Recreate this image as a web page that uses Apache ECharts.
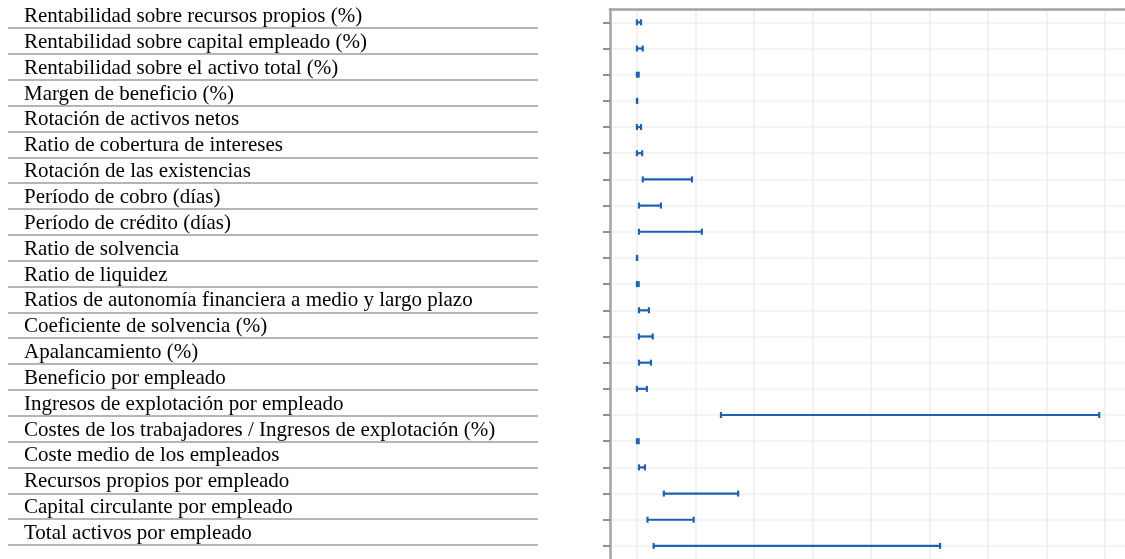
<!DOCTYPE html>
<html><head><meta charset="utf-8">
<script src="https://cdn.jsdelivr.net/npm/echarts@6/dist/echarts.min.js"></script>
<style>html,body{margin:0;padding:0;background:#fff}#c{width:1125px;height:559px}</style>
</head><body><div id="c"></div>
<script>
const categories = [
  'Rentabilidad sobre recursos propios (%)',
  'Rentabilidad sobre capital empleado (%)',
  'Rentabilidad sobre el activo total (%)',
  'Margen de beneficio (%)',
  'Rotación de activos netos',
  'Ratio de cobertura de intereses',
  'Rotación de las existencias',
  'Período de cobro (días)',
  'Período de crédito (días)',
  'Ratio de solvencia',
  'Ratio de liquidez',
  'Ratios de autonomía financiera a medio y largo plazo',
  'Coeficiente de solvencia (%)',
  'Apalancamiento (%)',
  'Beneficio por empleado',
  'Ingresos de explotación por empleado',
  'Costes de los trabajadores / Ingresos de explotación (%)',
  'Coste medio de los empleados',
  'Recursos propios por empleado',
  'Capital circulante por empleado',
  'Total activos por empleado'
];
const lowValues  = [0, 0, 0, 0, 0, 0, 10, 3.5, 3.5, 0, 0, 3.5, 3.5, 3.5, 0, 143.6, 0, 3.5, 46, 18, 28.5];
const highValues = [7, 10, 3, 0.5, 7, 9, 94, 41, 111, 0.5, 3, 20.5, 27, 24, 17, 790, 3, 13.7, 173, 97, 518];

const rangeData = categories.map((c, i) => [lowValues[i], highValues[i], i]);

const chart = echarts.init(document.getElementById('c'), null, {renderer: 'canvas'});
const blue = '#1f61b3';
chart.setOption({
  animation: false,
  backgroundColor: '#fff',
  grid: [
    {left: 610, top: 9.25, width: 515, height: 552.3, containLabel: false},
    {left: 8, top: 28, width: 530, height: 517, containLabel: false}
  ],
  xAxis: [
    {
      gridIndex: 0, type: 'value', position: 'top', min: -46, max: 834, splitNumber: 9,
      axisLine: {show: true, onZero: false, lineStyle: {color: '#a3a3a3', width: 2.5}},
      axisTick: {show: false}, axisLabel: {show: false},
      splitLine: {show: true, showMinLine: false, showMaxLine: false, lineStyle: {color: '#ededed', width: 1.5}}
    },
    {
      gridIndex: 1, type: 'value', min: 0, max: 1, show: false
    }
  ],
  yAxis: [
    {
      gridIndex: 0, type: 'category', inverse: true, data: categories,
      axisLine: {show: true, onZero: false, lineStyle: {color: '#a3a3a3', width: 2.5}},
      axisTick: {show: true, alignWithLabel: true, length: 7, lineStyle: {color: '#8f8f8f', width: 2}},
      axisLabel: {show: false},
      splitLine: {show: true, alignWithLabel: true, lineStyle: {color: '#f0f0f0', width: 1.5}}
    },
    {
      gridIndex: 1, type: 'value', min: 1, max: 21, interval: 1, inverse: true,
      axisLine: {show: false}, axisTick: {show: false},
      splitLine: {show: true, lineStyle: {color: '#b5b5b5', width: 2}},
      axisLabel: {
        show: true, inside: true, margin: 16, align: 'left', verticalAlign: 'bottom',
        padding: [0, 0, 1, 0],
        fontFamily: 'Liberation Serif', fontSize: 21, color: '#000',
        showMinLabel: true, showMaxLabel: true,
        formatter: v => categories[v - 1] || ''
      }
    }
  ],
  series: [{
    type: 'custom',
    xAxisIndex: 0, yAxisIndex: 0,
    data: rangeData,
    encode: {x: [0, 1], y: 2},
    renderItem: function (params, api) {
      const p0 = api.coord([api.value(0), api.value(2)]);
      const p1 = api.coord([api.value(1), api.value(2)]);
      const h = 3;
      const style = {stroke: blue, lineWidth: 2.2};
      return {
        type: 'group',
        children: [
          {type: 'line', shape: {x1: p0[0], y1: p0[1], x2: p1[0], y2: p1[1]}, style: style},
          {type: 'line', shape: {x1: p0[0], y1: p0[1] - h, x2: p0[0], y2: p0[1] + h}, style: style},
          {type: 'line', shape: {x1: p1[0], y1: p1[1] - h, x2: p1[0], y2: p1[1] + h}, style: style}
        ]
      };
    }
  }]
});
</script>
</body></html>
